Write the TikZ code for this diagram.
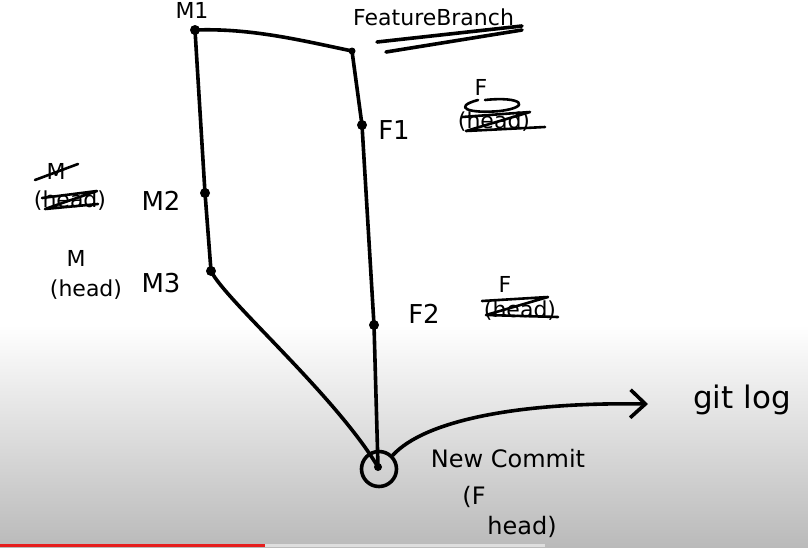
\documentclass[tikz,border=0pt]{standalone}
\usepackage{fontspec}
\setmainfont{DejaVu Sans}
\usetikzlibrary{arrows.meta}
\definecolor{bggray}{RGB}{186,186,186}
\definecolor{barred}{RGB}{230,30,30}
\definecolor{barlight}{RGB}{222,222,222}
\begin{document}
\begin{tikzpicture}[x=1pt,y=-1pt,
  ink/.style={line width=3.6pt, line cap=round, line join=round, black},
  thinink/.style={line width=2.6pt, line cap=round, line join=round, black},
  dot/.style={circle, fill=black, inner sep=0pt, minimum size=10pt},
  lbl/.style={font=\fontsize{22}{25}\selectfont, inner sep=0pt, anchor=center},
  biglbl/.style={font=\fontsize{26}{29}\selectfont, inner sep=0pt, anchor=center}]
\useasboundingbox (0,0) rectangle (808,547);
\fill[white] (0,0) rectangle (808,325);
\shade[top color=white, bottom color=bggray] (0,325) rectangle (808,547);
\fill[barred] (0,544) rectangle (265,547);
\fill[barlight] (265,544) rectangle (545,547);

% commits
\node[dot] (m1) at (195,30) {};
\node[dot, minimum size=7pt] (ftop) at (352,51) {};
\node[dot] (f1) at (362,125) {};
\node[dot] (m2) at (205,193) {};
\node[dot] (m3) at (211,271) {};
\node[dot] (f2) at (374,325) {};
\node[circle, draw, ink, minimum size=35pt, inner sep=0pt] (nc) at (379,469) {};
\node[dot, minimum size=8pt] (ncdot) at (378,467) {};
\coordinate (logend) at (648,404);

% branches
\draw[ink] (m1.center) .. controls (250,28) and (300,40) .. (ftop.center)
  -- (f1.center) -- (f2.center) -- (ncdot.center);
\draw[ink] (m1.center) -- (m2.center) -- (m3.center)
  .. controls (225,300) and (335,395) .. (ncdot.center);
\draw[ink, -{Straight Barb[length=15pt, width=28pt, line width=3.6pt]}]
  (nc.45) .. controls (425,420) and (520,402) .. (logend);

% labels
\node[lbl] (lm1) at (192,10) {M1};
\node[lbl, anchor=west] (lfb) at (353,17) {FeatureBranch};
\draw[ink] (377,42) -- (522,26);
\draw[ink] (386,52) -- (522,30);

% F1
\node[biglbl] (lf1) at (394,130) {F1};
\node[lbl] (lf1h) at (494,122) {(head)};
\node[lbl] (lf1f) at (481,87) {F};
\draw[thinink] (462,117) -- (530,112) -- (466,131) -- (545,127);
\draw[thinink] (478,100) .. controls (452,107) and (468,114) .. (500,111) .. controls (532,107) and (522,96) .. (485,100);

% M2
\node[biglbl] (lm2) at (161,201) {M2};
\node[lbl] (lm2h) at (70,201) {(head)};
\node[lbl] (lm2m) at (56,171) {M};
\draw[thinink] (42,198) -- (97,191) -- (45,209) -- (98,204);
\draw[thinink] (35,180) -- (78,164);

% M3
\node[lbl] (lm3m) at (76,258) {M};
\node[lbl] (lm3h) at (86,290) {(head)};
\node[biglbl] (lm3) at (161,283) {M3};

% F2
\node[biglbl] (lf2) at (424,314) {F2};
\node[lbl] (lf2f) at (505,284) {F};
\node[lbl] (lf2h) at (520,311) {(head)};
\draw[thinink] (482,301) -- (548,297) -- (486,315) -- (558,317);

% new commit
\node[lbl, font=\fontsize{24}{27}\selectfont] (lnc) at (508,459) {New Commit};
\node[lbl, font=\fontsize{24}{27}\selectfont] (lncf) at (474,497) {(F};
\node[lbl, font=\fontsize{24}{27}\selectfont] (lnch) at (522,527) {head)};

% git log
\node[biglbl, anchor=west, font=\fontsize{31}{34}\selectfont] (lgl) at (693,400) {git log};
\end{tikzpicture}
\end{document}
